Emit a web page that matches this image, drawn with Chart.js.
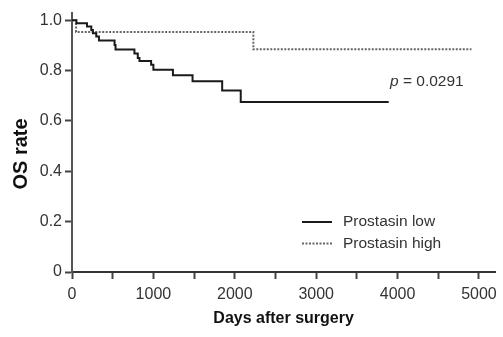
<!DOCTYPE html>
<html>
<head>
<meta charset="utf-8">
<script src="https://cdn.jsdelivr.net/npm/chart.js@4/dist/chart.umd.min.js"></script>
<style>
  html, body { margin: 0; padding: 0; background: #fff; }
  #wrap { width: 503px; height: 337px; }
</style>
</head>
<body>
<div id="wrap"><canvas id="km" width="503" height="337"></canvas></div>
<script>
// survival curves (days after surgery, OS rate)
var lowDays  = [0, 54, 184, 237, 257, 298, 331, 523, 535, 767, 808, 829, 972, 1000, 1240, 1481, 1845, 2073, 3891];
var lowRate  = [1.0, 0.988, 0.975, 0.961, 0.948, 0.935, 0.919, 0.901, 0.883, 0.868, 0.850, 0.838, 0.823, 0.803, 0.781, 0.757, 0.721, 0.675, 0.675];
var highDays = [0, 50, 2228, 4908];
var highRate = [1.0, 0.953, 0.884, 0.884];

var xTickValues = [0, 500, 1000, 1500, 2000, 2500, 3000, 3500, 4000, 4500, 5000];
var xTickLabels = ['0', '', '1000', '', '2000', '', '3000', '', '4000', '', '5000'];
var yTickValues = [0, 0.2, 0.4, 0.6, 0.8, 1.0];
var yTickLabels = ['0', '0.2', '0.4', '0.6', '0.8', '1.0'];

var seriesNames = ['Prostasin low', 'Prostasin high'];
var pText = '0.0291';

var FONT = "'Liberation Sans', Arial, sans-serif";
var INK = '#333';

function toPoints(xs, ys) {
    var out = [];
    for (var i = 0; i < xs.length; i++) {
        out.push({x: xs[i], y: ys[i]});
    }
    return out;
}

// legend, p value and y title drawn as text inside the plot
var extras = {
    id: 'extras',
    afterDraw: function (chart) {
        var ctx = chart.ctx;
        var ds = chart.data.datasets;
        ctx.save();
        ctx.textBaseline = 'middle';
        ctx.textAlign = 'left';
        ctx.fillStyle = INK;
        ctx.font = '15.5px ' + FONT;
        var lx = 302, ty = 222;
        for (var i = 0; i < ds.length; i++) {
            var y = ty + i * 21.5;
            ctx.strokeStyle = ds[i].borderColor;
            ctx.lineWidth = ds[i].borderWidth;
            ctx.setLineDash(ds[i].borderDash || []);
            ctx.beginPath();
            ctx.moveTo(lx, y);
            ctx.lineTo(lx + 30, y);
            ctx.stroke();
            ctx.fillText(seriesNames[i], lx + 41, y);
        }
        ctx.setLineDash([]);

        // p value
        ctx.font = 'italic 15.5px ' + FONT;
        ctx.fillText('p', 390, 82);
        var w = ctx.measureText('p').width;
        ctx.font = '15.5px ' + FONT;
        ctx.fillText(' = ' + pText, 390 + w, 82);

        // y axis title
        ctx.translate(21, 154);
        ctx.rotate(-Math.PI / 2);
        ctx.textAlign = 'center';
        ctx.font = 'bold 20px ' + FONT;
        ctx.fillStyle = '#111';
        ctx.fillText('OS rate', 0, 0);
        ctx.restore();
    }
};

var ctx = document.getElementById('km').getContext('2d');
var chart = new Chart(ctx, {
    type: 'line',
    data: {
        datasets: [
            {
                label: seriesNames[0],
                data: toPoints(lowDays, lowRate),
                stepped: true,
                borderColor: '#1a1a1a',
                borderWidth: 2,
                pointRadius: 0,
                fill: false
            },
            {
                label: seriesNames[1],
                data: toPoints(highDays, highRate),
                stepped: true,
                borderColor: '#666',
                borderWidth: 2,
                borderDash: [2, 1.5],
                pointRadius: 0,
                fill: false
            }
        ]
    },
    options: {
        responsive: false,
        animation: false,
        devicePixelRatio: 1,
        layout: {padding: {top: 0, right: 6, bottom: 0, left: 0}},
        plugins: {
            legend: {display: false},
            tooltip: {enabled: false}
        },
        scales: {
            x: {
                type: 'linear',
                min: 0,
                max: 5200,
                afterBuildTicks: function (scale) {
                    scale.ticks = xTickValues.map(function (v) { return {value: v}; });
                },
                afterFit: function (scale) { scale.height = 65; },
                ticks: {
                    autoSkip: false,
                    maxRotation: 0,
                    padding: 6,
                    color: INK,
                    font: {family: FONT, size: 16},
                    callback: function (value, index) { return xTickLabels[index]; }
                },
                grid: {
                    drawOnChartArea: false,
                    drawTicks: true,
                    tickLength: 7,
                    tickWidth: 2,
                    tickColor: '#444'
                },
                border: {display: true, color: '#333', width: 2},
                title: {
                    display: true,
                    text: 'Days after surgery',
                    color: '#111',
                    font: {family: FONT, size: 16, weight: 'bold'},
                    padding: {top: 0, bottom: 9}
                }
            },
            y: {
                type: 'linear',
                min: 0,
                max: 1.03,
                afterBuildTicks: function (scale) {
                    scale.ticks = yTickValues.map(function (v) { return {value: v}; });
                },
                afterFit: function (scale) { scale.width = 72; },
                ticks: {
                    padding: 3,
                    color: INK,
                    font: {family: FONT, size: 16},
                    callback: function (value, index) { return yTickLabels[index]; }
                },
                grid: {
                    drawOnChartArea: false,
                    drawTicks: true,
                    tickLength: 7,
                    tickWidth: 2,
                    tickColor: '#444'
                },
                border: {display: true, color: '#555', width: 2}
            }
        }
    },
    plugins: [extras]
});
</script>
</body>
</html>
